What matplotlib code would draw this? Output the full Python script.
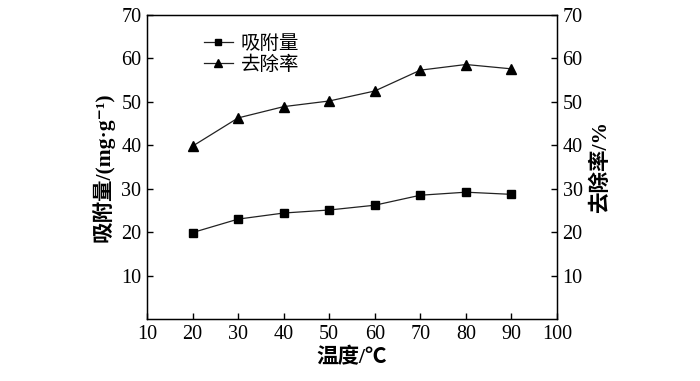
import matplotlib
matplotlib.use('Agg')
import matplotlib.pyplot as plt

plt.rcParams['font.family'] = ['Liberation Serif', 'Noto Sans CJK SC', 'DejaVu Sans']

# data
temp = [20, 30, 40, 50, 60, 70, 80, 90]
adsorption = [19.9, 23.0, 24.4, 25.1, 26.2, 28.5, 29.2, 28.7]
removal = [39.8, 46.3, 48.9, 50.2, 52.5, 57.3, 58.6, 57.6]

xticks = [10, 20, 30, 40, 50, 60, 70, 80, 90, 100]
yticks = [10, 20, 30, 40, 50, 60, 70]

fig = plt.figure(figsize=(7, 3.81), dpi=100)
ax = fig.add_axes([147/700, 1 - 319/381, (557-147)/700, (319-15)/381])

l1, = ax.plot(temp, adsorption, color='#222222', lw=0.9, marker='s', ms=5.5,
              mfc='black', mec='black', label='吸附量')
l2, = ax.plot(temp, removal, color='#222222', lw=0.9, marker='^', ms=6.5,
              mfc='black', mec='black', label='去除率')

ax.set_xlim(10, 100)
ax.set_ylim(0, 70)
ax.set_xticks(xticks)
ax.set_yticks(yticks)
ax.tick_params(direction='in', labelsize=14.5, length=4, width=1, top=False, pad=4)
for s in ax.spines.values():
    s.set_linewidth(1)

ax2 = ax.twinx()
ax2.set_ylim(0, 70)
ax2.set_yticks(yticks)
ax2.tick_params(direction='in', labelsize=14.5, length=4, width=1, pad=4)

lab_font = ['Liberation Serif', 'Noto Sans CJK SC', 'DejaVu Sans']
ax.set_xlabel('温度/℃', fontsize=15.5, family=lab_font, fontweight='bold', labelpad=3)
ax.set_ylabel('吸附量/(mg·g⁻¹)', fontsize=15.5, family=lab_font, fontweight='bold', labelpad=5)
ax2.set_ylabel('去除率/%', fontsize=15.5, family=lab_font, fontweight='bold', labelpad=6)

ax.legend(handles=[l1, l2], loc='upper left', bbox_to_anchor=(0.105, 0.985), frameon=False,
          prop={'family': ['Noto Sans CJK SC'], 'size': 14}, handlelength=1.5,
          handletextpad=0.4, labelspacing=0.0, borderaxespad=0.3, markerscale=0.85)

fig.savefig('out.png', dpi=100)
